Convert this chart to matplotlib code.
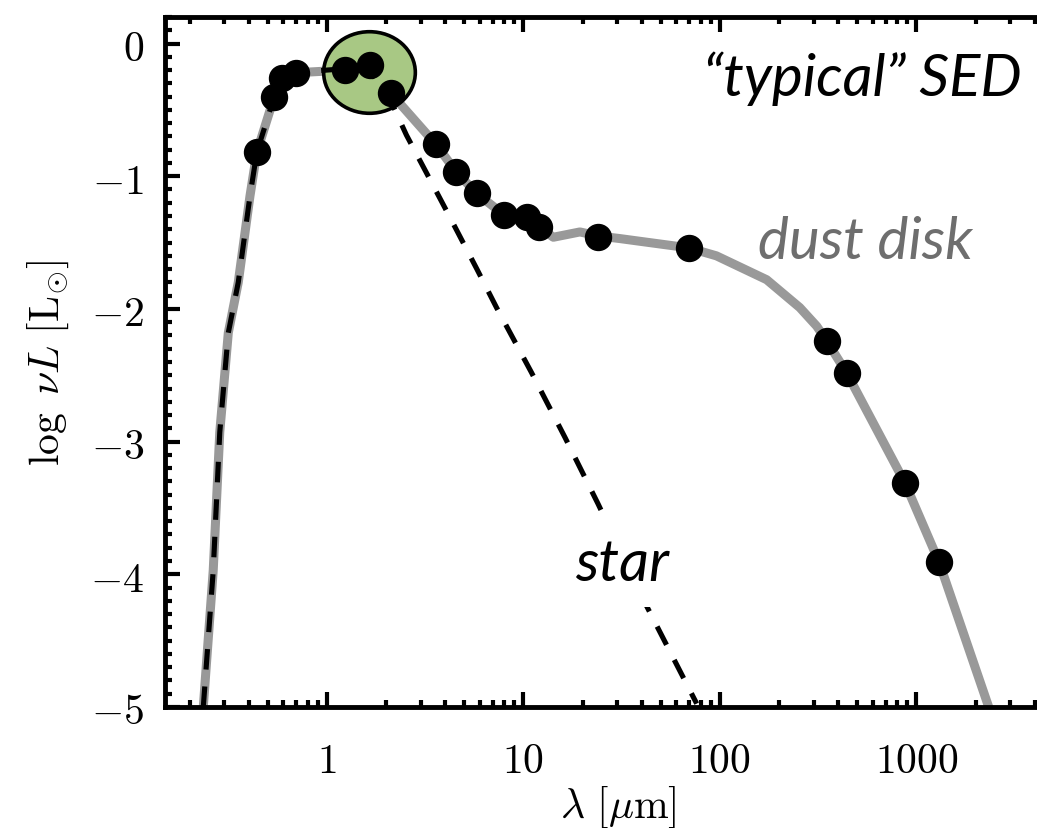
import matplotlib
matplotlib.use("Agg")
import matplotlib.pyplot as plt
from matplotlib.ticker import FixedLocator, LogLocator, MultipleLocator, FuncFormatter, NullFormatter
from matplotlib.path import Path
from matplotlib.transforms import Affine2D

plt.rcParams['mathtext.fontset'] = 'cm'

# photometry points (wavelength in micron, log nuL in Lsun)
obs_wave = [0.44, 0.54, 0.59, 0.70, 1.24, 1.65, 2.13, 3.59, 4.54, 5.78, 7.96,
            10.4, 12.0, 24.0, 69.5, 349, 441, 874, 1306]
obs_logL = [-0.82, -0.40, -0.26, -0.225, -0.20, -0.165, -0.375, -0.76, -0.965,
            -1.13, -1.29, -1.31, -1.38, -1.46, -1.54, -2.24, -2.48, -3.31, -3.91]

# star + disk model (grey curve)
disk_wave = [0.235, 0.264, 0.285, 0.315, 0.354, 0.406, 0.44, 0.54, 0.59, 0.70,
             1.24, 1.65, 2.13, 3.59, 4.54, 5.78, 7.96, 10.4, 12.0, 14.2, 19.4,
             24.0, 31.0, 39.0, 69.5, 96.0, 173, 255, 311, 349, 441, 874, 1306, 2321]
disk_logL = [-5.0, -3.97, -2.93, -2.18, -1.80, -1.15, -0.82, -0.40, -0.26, -0.22,
             -0.20, -0.17, -0.38, -0.76, -0.965, -1.13, -1.29, -1.31, -1.38, -1.46, -1.42,
             -1.45, -1.47, -1.49, -1.54, -1.60, -1.78, -1.99, -2.13, -2.24, -2.48, -3.31, -3.91, -4.99]

# photosphere (dashed)
star_wave = [0.235, 0.264, 0.285, 0.315, 0.354, 0.406, 0.44, 0.54, 0.60, 0.70, 1.0,
             1.24, 1.65, 2.14, 2.54, 3.2, 4.23, 5.8, 7.3, 11.0, 16.3, 24.0, 42.4, 76.2]
star_logL = [-5.0, -3.97, -2.93, -2.18, -1.80, -1.15, -0.82, -0.40, -0.27, -0.22, -0.20,
             -0.19, -0.20, -0.45, -0.69, -0.97, -1.31, -1.70, -1.99, -2.48, -2.97, -3.47, -4.24, -4.975]

# highlighted near-IR peak
peak_wave = [1.64]
peak_logL = [-0.218]

fig = plt.figure(figsize=(10.37, 8.29), dpi=100)
# right spine sits just outside the picture, as in the original crop
ax = fig.add_axes([0.1591, 0.146, 0.875, 0.8323])

ax.plot(disk_wave, disk_logL, color='#999999', lw=6.5, zorder=1)

# ellipse marker for the peak
ell = Path.unit_circle().transformed(Affine2D().scale(1.0, 0.89))
ax.plot(peak_wave, peak_logL, ls='none', marker=ell, ms=66, mfc='#a8c884',
        mec='black', mew=2.6, zorder=2)

ax.plot(star_wave, star_logL, color='black', lw=3.7, ls=(0, (4, 3.3)), zorder=3)
ax.plot(obs_wave, obs_logL, ls='none', marker='o', ms=18.7, color='black', zorder=4)

ax.set_xscale('log')
# keep 1000 at the same spot: decade width fixed by the axes width
ax.set_xlim(0.15, 0.15 * 10 ** (0.875 * 1037 / 196.5))
ax.set_ylim(-5, 0.2)

ax.xaxis.set_major_locator(FixedLocator([1, 10, 100, 1000]))
ax.xaxis.set_minor_locator(LogLocator(base=10, subs=range(2, 10), numticks=20))
ax.xaxis.set_major_formatter(FuncFormatter(lambda v, p: '$%d$' % v))
ax.xaxis.set_minor_formatter(NullFormatter())
ax.yaxis.set_major_locator(MultipleLocator(1))
ax.yaxis.set_minor_locator(MultipleLocator(0.1))
ax.yaxis.set_major_formatter(FuncFormatter(lambda v, p: '$%d$' % round(v)))

ax.tick_params(which='both', direction='in', top=True, right=True, width=3)
ax.tick_params(which='major', length=10.5)
ax.tick_params(which='minor', length=5)
ax.tick_params(axis='x', which='major', labelsize=30, pad=23)
ax.tick_params(axis='y', which='major', labelsize=30, pad=15)
for s in ax.spines.values():
    s.set_linewidth(3.5)

ax.set_xlabel(r'$\lambda\ [\mu\mathrm{m}]$', fontsize=30, labelpad=2)
ax.set_ylabel(r'$\log\ \nu L\ [\mathrm{L}_{\odot}]$', fontsize=30, labelpad=14)

tfont = dict(family=['Lato', 'DejaVu Sans'], style='italic')
ax.text(3444, -0.39, '\u201ctypical\u201d SED', ha='right', va='baseline',
        fontsize=42, color='black', **tfont)
ax.text(156, -1.62, 'dust disk', ha='left', va='baseline', fontsize=42,
        color='#6e6e6e', **tfont)
ax.text(18.3, -4.045, 'star', ha='left', va='baseline', fontsize=42, color='black',
        bbox=dict(facecolor='white', edgecolor='none', pad=12), zorder=5, **tfont)

fig.savefig('out.png', dpi=100)
